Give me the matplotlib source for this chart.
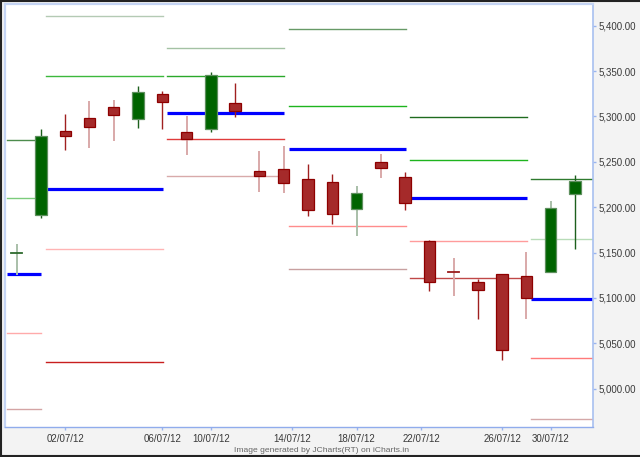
import matplotlib
matplotlib.use("Agg")
import matplotlib.pyplot as plt
from matplotlib.lines import Line2D

plt.rcParams['font.family'] = ['Liberation Sans', 'DejaVu Sans']

# ---------------- data ----------------
opens  = [5149.0, 5191.4, 5284.0, 5298.3, 5310.4, 5297.2, 5324.4, 5282.5, 5285.8, 5314.5,
          5239.5, 5242.5, 5231.4, 5227.4, 5198.3, 5249.4, 5233.2, 5163.0, 5129.0, 5117.5,
          5126.3, 5123.8, 5128.5, 5214.1]
highs  = [5159.4, 5286.1, 5302.3, 5316.7, 5318.1, 5333.5, 5327.7, 5300.1, 5349.3, 5336.5,
          5261.9, 5267.7, 5247.2, 5236.9, 5223.0, 5258.3, 5238.8, 5164.1, 5144.3, 5121.2,
          5126.5, 5150.2, 5206.4, 5235.1]
lows   = [5125.5, 5188.4, 5262.7, 5265.5, 5272.6, 5287.6, 5286.5, 5257.5, 5283.2, 5299.7,
          5217.0, 5216.0, 5189.9, 5181.1, 5168.2, 5232.5, 5196.9, 5107.6, 5102.4, 5076.4,
          5031.9, 5077.1, 5128.5, 5153.9]
closes = [5150.0, 5278.8, 5278.0, 5288.0, 5301.9, 5327.3, 5316.2, 5275.1, 5345.3, 5305.7,
          5234.0, 5227.0, 5196.5, 5192.8, 5215.6, 5242.8, 5204.6, 5117.8, 5128.0, 5109.0,
          5042.2, 5099.6, 5199.4, 5228.8]

# weekly pivot levels (one value per weekly segment)
seg_start = [-0.40, 1.20, 6.20, 11.20, 16.20, 21.20]
seg_end   = [1.00, 6.02, 11.02, 16.04, 21.04, 23.72]
pivot = [5126, 5220, 5304, 5264, 5210, 5099]
r1    = [5210, 5344, 5345, 5311, 5252, 5165]
r2    = [5274, 5411, 5375, 5396, 5299, 5231]
s1    = [5061, 5154, 5275, 5179, 5163, 5034]
s2    = [4977, 5029, 5234, 5132, 5122, 4967]

xtick_pos = [2, 6, 8, 11.33, 14, 16.67, 20, 22]
xtick_labels = ['02/07/12', '06/07/12', '10/07/12', '14/07/12',
                '18/07/12', '22/07/12', '26/07/12', '30/07/12']
ytick_vals = [5000, 5050, 5100, 5150, 5200, 5250, 5300, 5350, 5400]

# ---------------- styles ----------------
r2_col = ["#4d8c4d", "#b4cab4", "#a4c2a4", "#679a67", "#1f6b1f", "#2e7a2e"]
r1_col = ["#7ccc7c", "#3cb83c", "#2aa82a", "#1eb41e", "#1eb41e", "#b8dcb8"]
s1_col = ["#ffaaaa", "#ffb4b4", "#e03c3c", "#ff8c8c", "#ff9c9c", "#ff7a7a"]
s2_col = ["#d4a4a4", "#c81e1e", "#d8aaaa", "#c8a0a0", "#c04848", "#d4a8a8"]
# per-candle wick rendering (soft = anti-aliased look in the reference)
soft_wick = [1, 0, 0, 1, 1, 0, 0, 1, 0, 0, 1, 1, 0, 0, 1, 1, 0, 0, 1, 0, 0, 1, 1, 0]

W, H = 640, 457
fig = plt.figure(figsize=(W / 100, H / 100), dpi=100, facecolor="#f3f3f3")
ax = fig.add_axes([5 / W, 30 / H, 587.5 / W, 423 / H])
ax.set_facecolor("white")

# pivot segments
for i in range(len(pivot)):
    xs = [seg_start[i], seg_end[i]]
    ax.plot(xs, [r2[i]] * 2, color=r2_col[i], lw=1.0, zorder=2)
    ax.plot(xs, [r1[i]] * 2, color=r1_col[i], lw=1.0, zorder=2)
    ax.plot(xs, [s1[i]] * 2, color=s1_col[i], lw=1.0, zorder=2)
    ax.plot(xs, [s2[i]] * 2, color=s2_col[i], lw=1.0, zorder=2)
    ax.plot(xs, [pivot[i]] * 2, color="#0000ff", lw=2.3, zorder=2,
            solid_capstyle='butt')

# candles
bw = 0.47
for i in range(len(opens)):
    o, h, l, c = opens[i], highs[i], lows[i], closes[i]
    up = c >= o
    if up:
        fill_c, edge_c = "#006400", "#5e8f5e"
        wick_c = "#a9bfa9" if soft_wick[i] else "#1d601d"
    else:
        fill_c, edge_c = "#a52a2a", "#8e0000"
        wick_c = "#d9a9a9" if soft_wick[i] else "#a02020"
    ax.vlines(i, l, h, color=wick_c, lw=1.4 if soft_wick[i] else 1.0, zorder=3)
    hgt = c - o
    if abs(hgt) < 1.5:
        tick_c = "#2d6a2d" if up else "#9a1a1a"
        ax.plot([i - bw / 2, i + bw / 2], [(o + c) / 2] * 2, color=tick_c,
                lw=1.3, zorder=4)
    else:
        ax.bar(i, hgt, bottom=o, width=bw, color=fill_c, edgecolor=edge_c,
               linewidth=0.9, zorder=4)

ax.set_xlim(-0.48, 23.72)
ax.set_ylim(4957.7, 5423.9)

ax.set_xticks(xtick_pos)
ax.set_xticklabels(xtick_labels)
ax.set_yticks(ytick_vals)
ax.set_yticklabels([f"{v:,.2f}" for v in ytick_vals])
ax.yaxis.tick_right()
ax.tick_params(axis='y', length=2.5, width=1, color="#99b4ee", pad=1.5,
               labelsize=7, labelcolor="#3a3a3a")
ax.tick_params(axis='x', length=2.5, width=1, color="#99b4ee", pad=2.2,
               labelsize=7, labelcolor="#3a3a3a")

for side, col, lw in [("left", "#c4d4f4", 1.6), ("top", "#c4d4f4", 1.6),
                      ("right", "#a8c0f0", 1.2), ("bottom", "#90acec", 1.0)]:
    ax.spines[side].set_color(col)
    ax.spines[side].set_linewidth(lw)

fig.text(321.7 / W, (H - 450.7) / H, "Image generated by JCharts(RT) on iCharts.in",
         ha="center", va="center", fontsize=6.1, color="#666666")

# outer dark frame (left, top, bottom)
fr = "#222222"
fig.add_artist(Line2D([1 / W, 1 / W], [0, 1], transform=fig.transFigure, color=fr, lw=1.5))
fig.add_artist(Line2D([0, 1], [1 - 1 / H, 1 - 1 / H], transform=fig.transFigure, color=fr, lw=1.5))
fig.add_artist(Line2D([0, 1], [1 / H, 1 / H], transform=fig.transFigure, color=fr, lw=1.5))

fig.savefig("out.png", dpi=100, facecolor=fig.get_facecolor())
